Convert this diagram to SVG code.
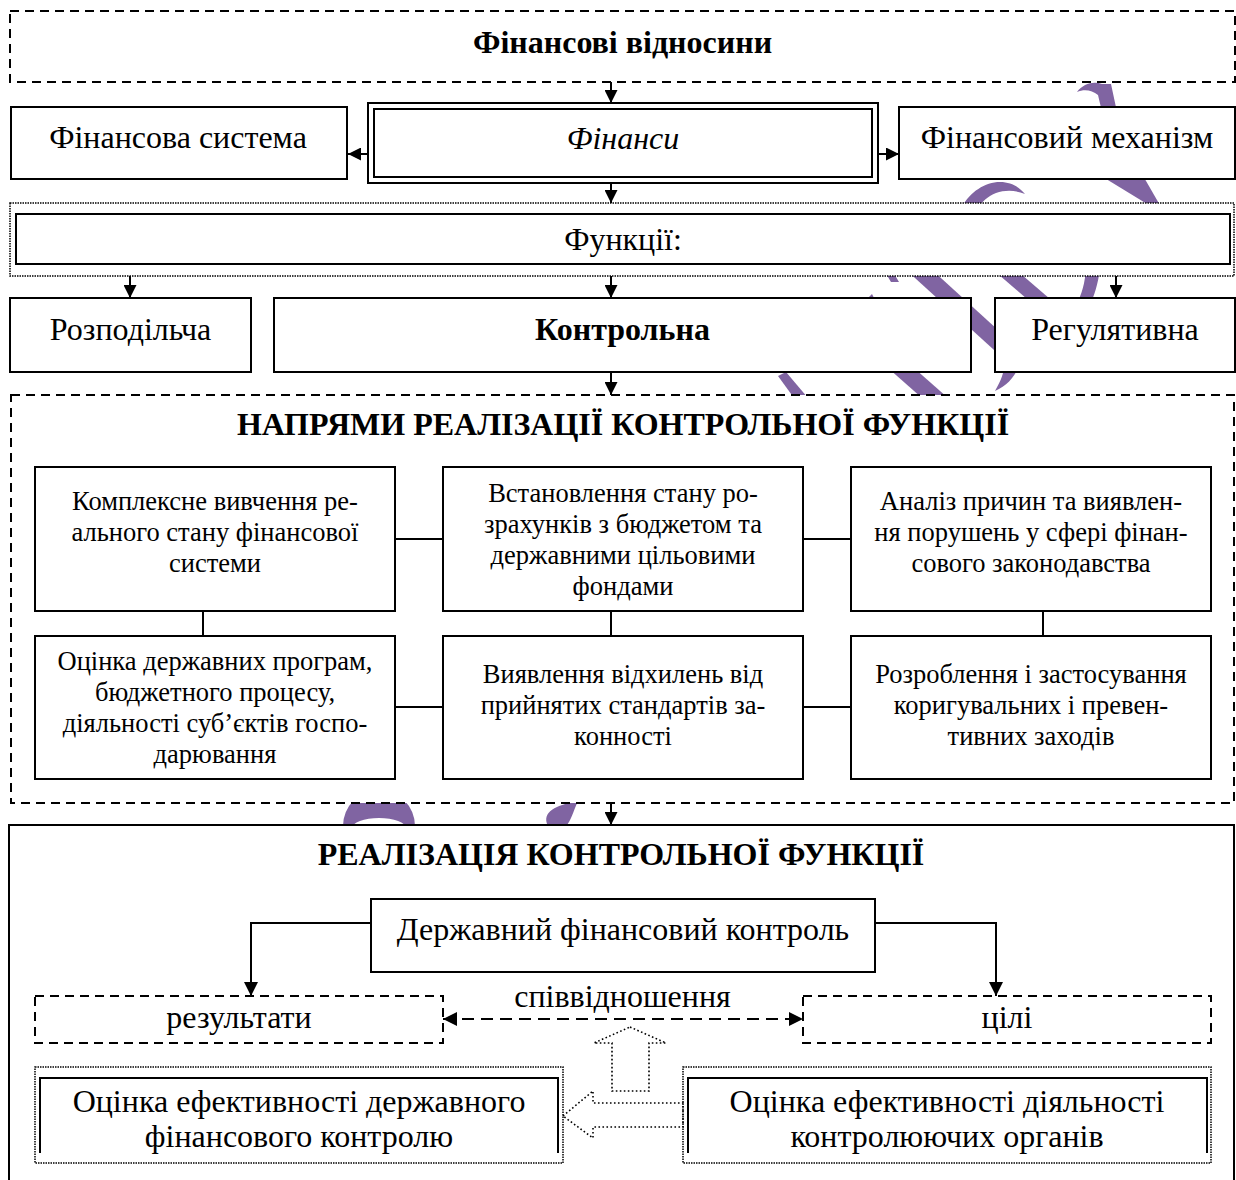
<svg xmlns="http://www.w3.org/2000/svg" width="1236" height="1180" viewBox="0 0 1236 1180">
  <defs>
    <marker id="arr" viewBox="0 0 10 10" refX="10" refY="5" markerWidth="14" markerHeight="13" markerUnits="userSpaceOnUse" orient="auto">
      <path d="M0,0 L10,5 L0,10 Z" fill="#000"/>
    </marker>
    <marker id="arr2" viewBox="0 0 10 10" refX="10" refY="5" markerWidth="15" markerHeight="14" markerUnits="userSpaceOnUse" orient="auto-start-reverse">
      <path d="M0,0 L10,5 L0,10 Z" fill="#000"/>
    </marker>
  </defs>
  <style>
    text { font-family: "Liberation Serif", "Times New Roman", serif; fill: #000; text-anchor: middle; }
    .t32 { font-size: 32px; }
    .b32 { font-size: 32px; font-weight: bold; }
    .it { font-style: italic; }
    .t26 { font-size: 26.5px; }
    .box { fill: #fff; stroke: #000; stroke-width: 2; }
    .dash { fill: #fff; stroke: #000; stroke-width: 2; stroke-dasharray: 9 6; }
    .dot { fill: #fff; stroke: #000; stroke-width: 1.5; stroke-dasharray: 1.5 1; }
    .hollow { fill: none; stroke: #000; stroke-width: 1.6; stroke-dasharray: 1.6 2.4; }
    .ln { fill: none; stroke: #000; stroke-width: 2; }
    .wm { fill: #8064A2; }
  </style>

  <!-- background brush mark, largely hidden behind the white boxes -->
  <g id="mark">
    <path class="wm" d="M1077,92 C1083,84 1093,81 1102,84 L1111,84 L1117,112 L1102,112 L1098,95 C1092,90 1084,89 1077,92 Z"/>
    <path class="wm" d="M1098,174 L1142,174 L1161,207 L1152,207 Z"/>
    <path class="wm" d="M962,207 C970,192 985,182 1000,182 C1012,182 1020,188 1025,194 C1015,190 1005,190 996,193 C988,196 982,202 978,207 Z"/>
    <path class="wm" d="M885,272 L893,272 L899,282 L891,282 Z"/>
    <path class="wm" d="M866,300 L872,294 L876,302 Z"/>
    <path class="wm" d="M904,268 L930,268 L1031,360 L1005,360 Z"/>
    <path class="wm" d="M991,268 L1014,268 L1057,305 L1034,305 Z"/>
    <path class="wm" d="M1086,268 L1100,268 C1098,285 1094,296 1090,305 L1076,305 C1082,294 1085,283 1086,268 Z"/>
    <path class="wm" d="M778,376 L786,372 L808,398 L794,398 Z"/>
    <path class="wm" d="M888,368 L914,368 L948,398 L922,398 Z"/>
    <path class="wm" d="M1004,368 L1018,368 C1014,378 1006,386 995,391 C999,384 1003,376 1004,368 Z"/>
    <path class="wm" fill-rule="evenodd" d="M343,826 A36,36 0 0 1 415,826 L415,830 L343,830 Z M352,828 A27,10 0 0 1 406,828 L406,830 L352,830 Z"/>
    <path class="wm" d="M548,826 C541,812 556,805 578,801 C573,812 571,821 566,826 Z"/>
  </g>

  <!-- frames -->
  <g id="frame-relations"><rect class="dash" x="10" y="11" width="1225" height="71"/>
    <text class="b32" x="622.5" y="53">Фінансові відносини</text></g>
  <g id="frame-functions"><rect class="dot" x="10" y="203" width="1224" height="73"/></g>
  <g id="frame-directions"><rect class="dash" x="11" y="395" width="1223" height="408"/>
    <text class="b32" x="623" y="435">НАПРЯМИ РЕАЛІЗАЦІЇ КОНТРОЛЬНОЇ ФУНКЦІЇ</text></g>
  <g id="frame-realization">
    <rect x="9" y="825" width="1225" height="360" fill="#fff"/>
    <path class="ln" d="M9,1182 V825 H1234 V1182"/>
    <text class="b32" x="621" y="865">РЕАЛІЗАЦІЯ КОНТРОЛЬНОЇ ФУНКЦІЇ</text>
  </g>

  <!-- top row -->
  <g id="fin-system"><rect class="box" x="11" y="107" width="336" height="72"/>
    <text class="t32" x="178" y="148">Фінансова система</text></g>
  <g id="finance">
    <rect class="box" x="368" y="103" width="510" height="80"/>
    <rect class="box" x="374" y="109" width="498" height="68" stroke-width="2.5"/>
    <text class="t32 it" x="623" y="149">Фінанси</text></g>
  <g id="fin-mechanism"><rect class="box" x="899" y="107" width="336" height="72"/>
    <text class="t32" x="1067" y="148">Фінансовий механізм</text></g>

  <g id="functions"><rect class="box" x="16" y="214" width="1214" height="50" stroke-width="2.5"/>
    <text class="t32" x="623" y="250">Функції:</text></g>

  <g id="distributive"><rect class="box" x="10" y="298" width="241" height="74"/>
    <text class="t32" x="130.5" y="340">Розподільча</text></g>
  <g id="control"><rect class="box" x="274" y="298" width="697" height="74"/>
    <text class="b32" x="622.5" y="340">Контрольна</text></g>
  <g id="regulative"><rect class="box" x="995" y="298" width="240" height="74"/>
    <text class="t32" x="1115" y="340">Регулятивна</text></g>

  <!-- directions of the control function -->
  <g id="dir-a"><rect class="box" x="35" y="467" width="360" height="144"/>
    <text class="t26"><tspan x="215" y="510">Комплексне вивчення ре-</tspan><tspan x="215" y="541">ального стану фінансової</tspan><tspan x="215" y="572">системи</tspan></text></g>
  <g id="dir-b"><rect class="box" x="443" y="467" width="360" height="144"/>
    <text class="t26"><tspan x="623" y="502">Встановлення стану ро-</tspan><tspan x="623" y="533">зрахунків з бюджетом та</tspan><tspan x="623" y="564">державними цільовими</tspan><tspan x="623" y="595">фондами</tspan></text></g>
  <g id="dir-c"><rect class="box" x="851" y="467" width="360" height="144"/>
    <text class="t26"><tspan x="1031" y="510">Аналіз причин та виявлен-</tspan><tspan x="1031" y="541">ня порушень у сфері фінан-</tspan><tspan x="1031" y="572">сового законодавства</tspan></text></g>
  <g id="dir-d"><rect class="box" x="35" y="636" width="360" height="143"/>
    <text class="t26"><tspan x="215" y="670">Оцінка державних програм,</tspan><tspan x="215" y="701">бюджетного процесу,</tspan><tspan x="215" y="732">діяльності суб’єктів госпо-</tspan><tspan x="215" y="763">дарювання</tspan></text></g>
  <g id="dir-e"><rect class="box" x="443" y="636" width="360" height="143"/>
    <text class="t26"><tspan x="623" y="683">Виявлення відхилень від</tspan><tspan x="623" y="714">прийнятих стандартів за-</tspan><tspan x="623" y="745">конності</tspan></text></g>
  <g id="dir-f"><rect class="box" x="851" y="636" width="360" height="143"/>
    <text class="t26"><tspan x="1031" y="683">Розроблення і застосування</tspan><tspan x="1031" y="714">коригувальних і превен-</tspan><tspan x="1031" y="745">тивних заходів</tspan></text></g>

  <!-- realization block -->
  <g id="state-control"><rect class="box" x="371" y="899" width="504" height="73"/>
    <text class="t32" x="623" y="940">Державний фінансовий контроль</text></g>
  <g id="results"><rect class="dash" x="35" y="996" width="408" height="47"/>
    <text class="t32" x="239" y="1028">результати</text></g>
  <g id="goals"><rect class="dash" x="803" y="996" width="408" height="47"/>
    <text class="t32" x="1007" y="1028">цілі</text></g>
  <g id="ratio-label"><text class="t32" x="622.5" y="1007">співвідношення</text></g>
  <g id="eval-control">
    <rect class="dot" x="35" y="1067" width="528" height="96"/>
    <path class="ln" stroke-width="2.5" d="M40,1153 V1078 H558 V1153"/>
    <text class="t32"><tspan x="299" y="1112">Оцінка ефективності державного</tspan><tspan x="299" y="1147">фінансового контролю</tspan></text>
  </g>
  <g id="eval-bodies">
    <rect class="dot" x="683" y="1067" width="528" height="96"/>
    <path class="ln" stroke-width="2.5" d="M688,1153 V1078 H1207 V1153"/>
    <text class="t32"><tspan x="947" y="1112">Оцінка ефективності діяльності</tspan><tspan x="947" y="1147">контролюючих органів</tspan></text>
  </g>

  <!-- connectors -->
  <g id="connectors">
    <path class="ln" marker-end="url(#arr)" d="M611,82 V103"/>
    <path class="ln" marker-end="url(#arr)" d="M611,183 V203"/>
    <path class="ln" marker-end="url(#arr)" d="M368,154 H348"/>
    <path class="ln" marker-end="url(#arr)" d="M878,154 H899"/>
    <path class="ln" marker-end="url(#arr)" d="M130,276 V298"/>
    <path class="ln" marker-end="url(#arr)" d="M611,276 V298"/>
    <path class="ln" marker-end="url(#arr)" d="M1116,276 V298"/>
    <path class="ln" marker-end="url(#arr)" d="M611,372 V395"/>
    <path class="ln" d="M395,539 H443 M803,539 H851 M395,707 H443 M803,707 H851 M203,611 V636 M611,611 V636 M1043,611 V636"/>
    <path class="ln" marker-end="url(#arr)" d="M611,803 V825"/>
    <path class="ln" marker-end="url(#arr2)" d="M371,923 H251 V996"/>
    <path class="ln" marker-end="url(#arr2)" d="M875,923 H996 V996"/>
    <path class="ln" stroke-width="2.5" stroke-dasharray="12 7" marker-start="url(#arr2)" marker-end="url(#arr2)" d="M443,1019 H803"/>
    <path class="hollow" d="M630,1027 L666,1043 L649,1043 L649,1091 L612,1091 L612,1043 L594,1043 Z"/>
    <path class="hollow" d="M563,1116 L593,1091 L593,1103 L683,1103 L683,1127 L593,1127 L593,1138 Z"/>
  </g>
</svg>
